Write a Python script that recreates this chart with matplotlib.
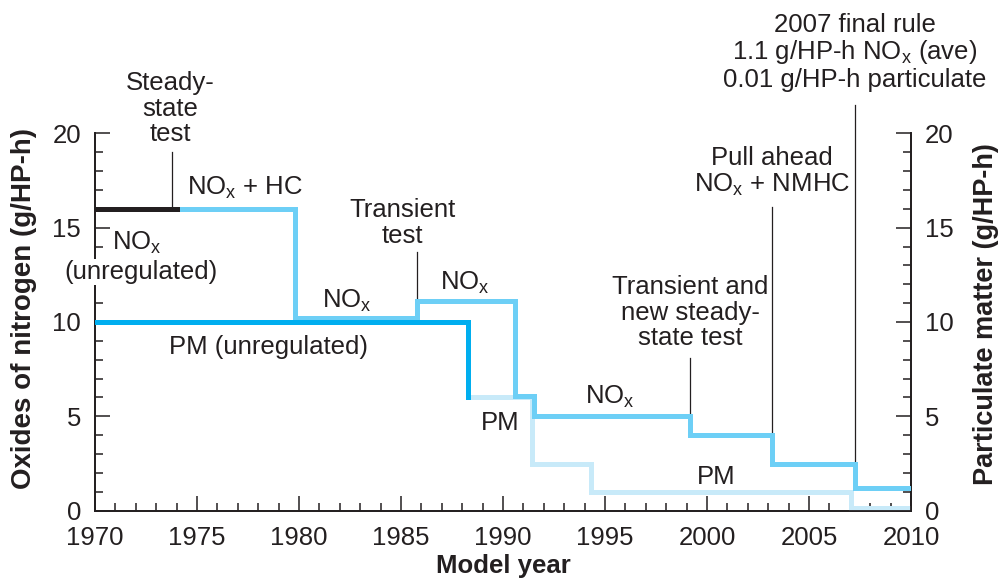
import matplotlib
matplotlib.use("Agg")
import matplotlib.pyplot as plt
from matplotlib.ticker import MultipleLocator

plt.rcParams['font.family'] = ['Liberation Sans', 'DejaVu Sans']
plt.rcParams['mathtext.fontset'] = 'custom'
plt.rcParams['mathtext.rm'] = 'Liberation Sans'

# NOx standard (left axis), g/HP-h
nox_unreg_years = [1970, 1974]
nox_unreg_vals = [16, 16]
nox_years = [1974, 1979.8, 1985.8, 1990.6, 1991.5, 1999.15, 2003.2, 2007.25, 2010]
nox_vals = [16, 10.2, 11.1, 6.1, 5.0, 4.0, 2.5, 1.2, 1.2]

# particulate standard (right axis), g/HP-h
pm_unreg_years = [1970, 1988.3]
pm_unreg_vals = [10, 6]
pm_years = [1988.3, 1991.4, 1994.3, 2007.05, 2010]
pm_vals = [6, 2.5, 1.0, 0.13, 0.13]

xticks = [1970, 1975, 1980, 1985, 1990, 1995, 2000, 2005, 2010]
yticks = [0, 5, 10, 15, 20]

dark = '#231f20'
c_nox = '#6dcff6'
c_pm0 = '#00aeef'
c_pm = '#c8eaf9'

fig = plt.figure(figsize=(9.99, 5.79), dpi=100)
ax = fig.add_axes([95/999, 1-510.7/579, 816/999, 377.4/579])
ax2 = ax.twinx()

lw = 3.6
ax.step(pm_years, pm_vals, where='post', color=c_pm, lw=lw, zorder=2, solid_joinstyle='miter')
ax.step(nox_years, nox_vals, where='post', color=c_nox, lw=lw, zorder=3, solid_joinstyle='miter')
ax.step(nox_unreg_years, nox_unreg_vals, where='post', color=dark, lw=lw, zorder=3)
ax.step(pm_unreg_years, pm_unreg_vals, where='post', color=c_pm0, lw=lw, zorder=4, solid_joinstyle='miter')

fs = 18.5
for a in (ax, ax2):
    a.set_xlim(1970, 2010)
    a.set_ylim(0, 20)
    a.spines['top'].set_visible(False)
    for s in ('left', 'right', 'bottom'):
        a.spines[s].set_color(dark)
        a.spines[s].set_linewidth(1.3)
    a.set_yticks(yticks)
    a.yaxis.set_minor_locator(MultipleLocator(1))
    a.tick_params(axis='y', which='major', direction='in', length=11, width=1.1,
                  color=dark, labelsize=fs, labelcolor=dark, pad=10)
    a.tick_params(axis='y', which='minor', direction='in', length=5.5, width=1.1, color=dark)

ax.set_xticks(xticks)
ax.xaxis.set_minor_locator(MultipleLocator(1))
ax.tick_params(axis='x', which='major', direction='in', length=11, width=1.1,
               color=dark, labelsize=fs, labelcolor=dark, pad=11)
ax.tick_params(axis='x', which='minor', direction='in', length=5.5, width=1.1, color=dark)
ax.patch.set_visible(False)
ax.set_zorder(ax2.get_zorder() + 1)

ax.set_ylabel('Oxides of nitrogen (g/HP-h)', fontsize=20, fontweight='bold', color=dark, labelpad=11)
ax2.set_ylabel('Particulate matter (g/HP-h)', fontsize=19.5, fontweight='bold', color=dark, labelpad=14)
ax.yaxis.label.set_y(0.535)
ax2.yaxis.label.set_y(0.52)
ax.set_xlabel('Model year', fontsize=18.5, fontweight='bold', color=dark, labelpad=3)

NOX = 'NO$_\\mathregular{x}$'
tk = dict(fontsize=fs, color=dark, ha='center', va='center', linespacing=1.08)

# series labels
ax.text(1977.35, 17.1, NOX + ' + HC', **tk)
ax.text(1972.06, 14.2, NOX, **tk)
ax.text(1972.25, 12.65, '(unregulated)', zorder=5,
        bbox=dict(facecolor='white', edgecolor='none', pad=1), **tk)
ax.text(1982.35, 11.1, NOX, **tk)
ax.text(1978.5, 8.67, 'PM (unregulated)', **tk)
ax.text(1988.15, 12.1, NOX, **tk)
ax.text(1989.85, 4.65, 'PM', **tk)
ax.text(1995.25, 6.05, NOX, **tk)
ax.text(2000.45, 1.8, 'PM', **tk)

# regulation callouts: (x, y of step, top of leader, text x, text y, text)
callouts = [
    (1973.76, 16.0, 19.0, 1973.7, 21.3, 'Steady-\nstate\ntest'),
    (1985.8, 11.1, 13.7, 1985.05, 15.25, 'Transient\ntest'),
    (1999.15, 5.0, 8.1, 1999.2, 10.5, 'Transient and\nnew steady-\nstate test'),
    (2003.2, 4.0, 16.1, 2003.2, 17.95, 'Pull ahead\n' + NOX + ' + NMHC'),
    (2007.25, 2.5, 21.5, 2007.25, 24.3,
     '2007 final rule\n1.1 g/HP-h ' + NOX + ' (ave)\n0.01 g/HP-h particulate'),
]
for x, y0, y1, tx, ty, label in callouts:
    ax.plot([x, x], [y0, y1], color=dark, lw=0.9, zorder=1, clip_on=False)
    ax.text(tx, ty, label, clip_on=False, **tk)

fig.savefig('out.png', dpi=100)
